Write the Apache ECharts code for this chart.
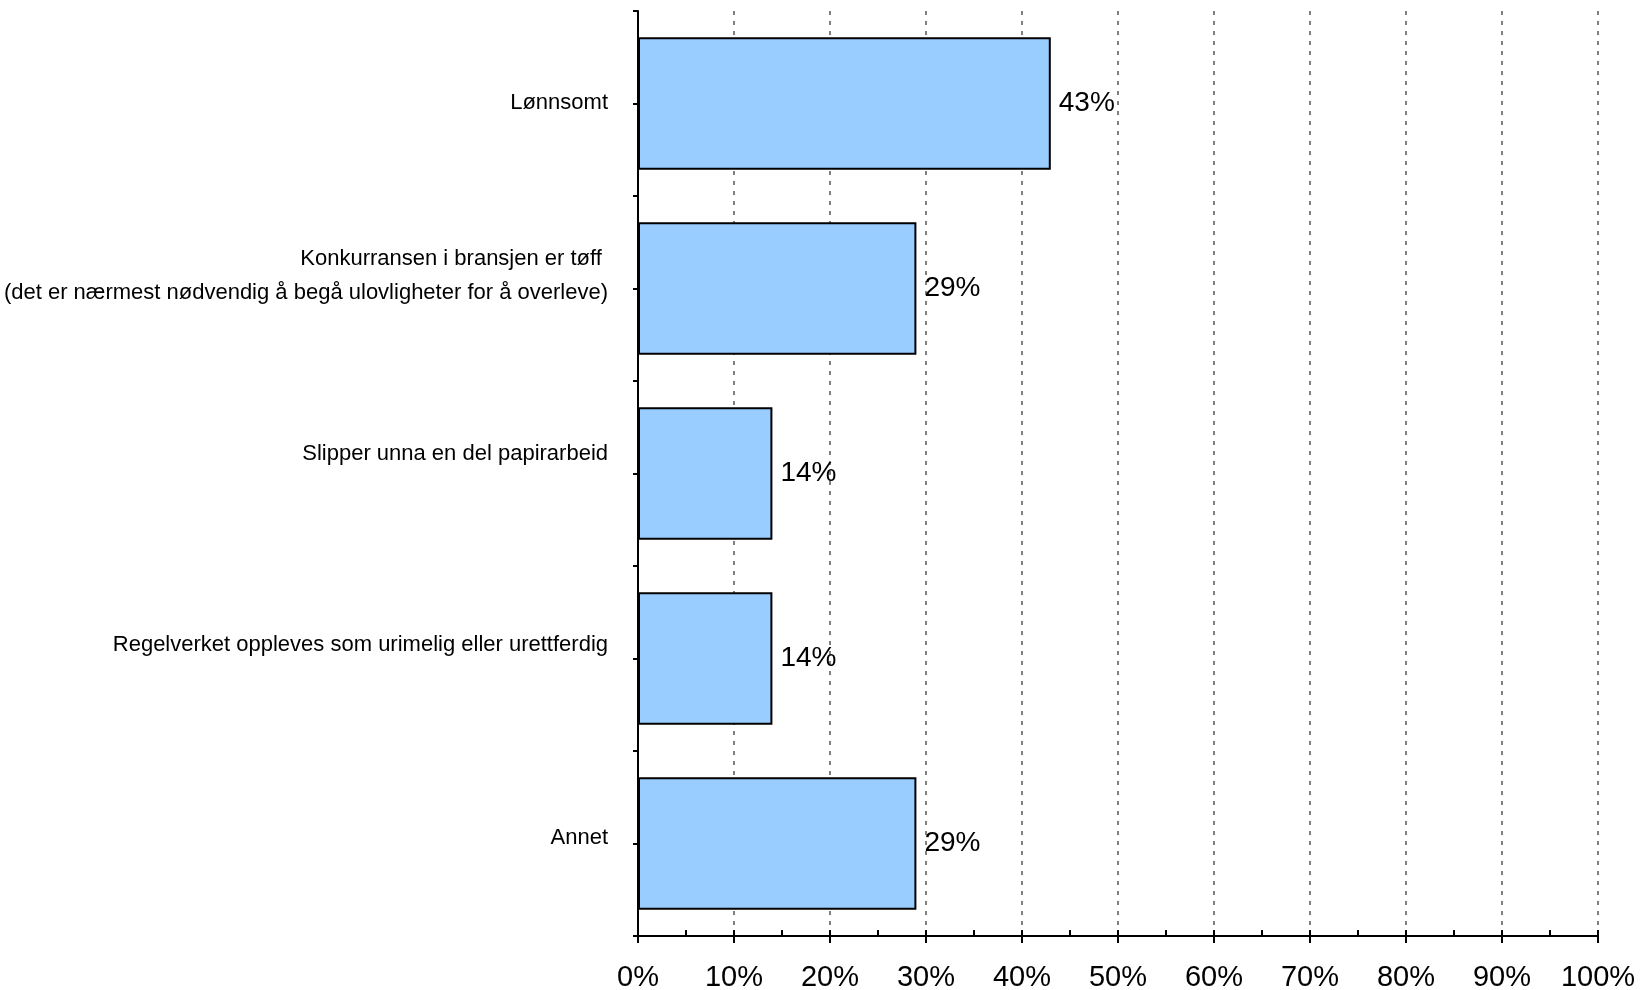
<!DOCTYPE html>
<html>
<head>
<meta charset="utf-8">
<script src="https://cdn.jsdelivr.net/npm/echarts@6/dist/echarts.min.js"></script>
<style>
html,body{margin:0;padding:0;background:#fff;}
#c{width:1640px;height:990px;}
</style>
</head>
<body>
<div id="c"></div>
<script>
const categories = [
  "Lønnsomt",
  "Konkurransen i bransjen er tøff \n(det er nærmest nødvendig å begå ulovligheter for å overleve)",
  "Slipper unna en del papirarbeid",
  "Regelverket oppleves som urimelig eller urettferdig",
  "Annet"
];
const values = [43, 29, 14, 14, 29];
const xTicks = [0, 10, 20, 30, 40, 50, 60, 70, 80, 90, 100];

// style only: how far each category label sits above its tick (px)
const labelLift = [1, 13, 20, 14, 6];

const FONT = "'Liberation Sans', Arial, sans-serif";
const CAT_FS = 22, CAT_LH = 34;

const rich = {
  t: {fontFamily: FONT, fontSize: CAT_FS, color: '#000', lineHeight: CAT_LH, align: 'right'}
};
labelLift.forEach((lift, i) => {
  rich['s' + i] = {fontFamily: FONT, fontSize: 1, color: '#000', lineHeight: Math.max(lift * 2, 1), align: 'right'};
});

const chart = echarts.init(document.getElementById('c'), null, {renderer: 'canvas'});
chart.setOption({
  animation: false,
  backgroundColor: '#ffffff',
  grid: {left: 638, right: 42, top: 11, bottom: 54, containLabel: false, outerBoundsMode: 'none'},
  xAxis: [{
    type: 'value', min: 0, max: 100, interval: 10,
    axisLine: {show: true, lineStyle: {color: '#000', width: 2}},
    axisTick: {show: true, length: 7, lineStyle: {color: '#000', width: 2}},
    axisLabel: {
      color: '#000', fontFamily: FONT, fontSize: 29, margin: 27,
      formatter: v => xTicks.includes(v) ? v + '%' : ''
    },
    splitLine: {show: true, lineStyle: {color: '#808080', width: 2, type: [4, 6]}}
  }, {
    type: 'value', min: 0, max: 100, interval: 5, position: 'bottom',
    axisLine: {show: false},
    axisTick: {show: true, inside: true, length: 6, lineStyle: {color: '#000', width: 2}},
    axisLabel: {show: false},
    splitLine: {show: false}
  }],
  yAxis: [{
    type: 'category', data: categories, inverse: true,
    axisLine: {show: true, lineStyle: {color: '#000', width: 2}},
    axisTick: {show: true, length: 5, interval: 0, lineStyle: {color: '#000', width: 2}},
    axisLabel: {
      color: '#000', fontFamily: FONT, fontSize: CAT_FS, margin: 30,
      align: 'right', lineHeight: CAT_LH, interval: 0,
      formatter: (value, index) => {
        const lines = String(value).split('\n');
        return lines.map(ln => '{t|' + ln + '}').join('\n') + '\n{s' + index + '|\u00a0}';
      },
      rich: rich
    },
    splitLine: {show: false}
  }, {
    type: 'category', data: categories, inverse: true, position: 'left',
    axisLine: {show: false},
    axisTick: {show: true, alignWithLabel: true, length: 5, interval: 0, lineStyle: {color: '#000', width: 2}},
    axisLabel: {show: false},
    splitLine: {show: false}
  }],
  series: [{
    type: 'bar',
    data: values,
    xAxisIndex: 0, yAxisIndex: 0,
    barCategoryGap: '28.5%',
    itemStyle: {color: '#99CCFF', borderColor: '#000', borderWidth: 2},
    label: {
      show: true, position: 'right', distance: 8,
      color: '#000', fontFamily: FONT, fontSize: 28,
      formatter: p => p.value + '%'
    },
    z: 3
  }]
});
</script>
</body>
</html>
